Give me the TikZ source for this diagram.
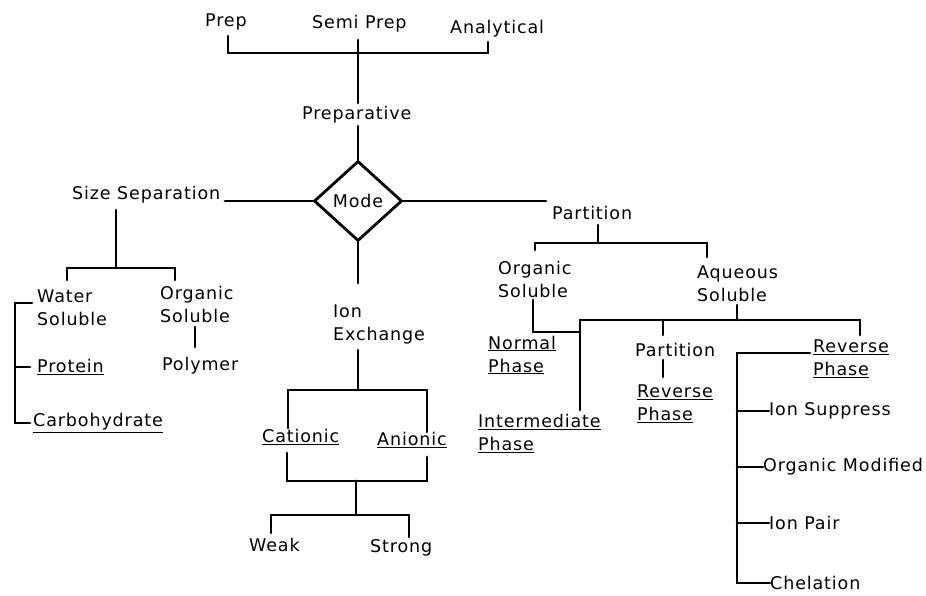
\documentclass[tikz,border=0pt]{standalone}
\usepackage{fontspec}
\setmainfont[LetterSpace=5]{DejaVu Sans}
\usetikzlibrary{shapes.geometric}
\begin{document}
\begin{tikzpicture}[x=1pt,y=-1pt,
  lbl/.style={anchor=west,inner sep=0pt,align=left,font=\fontsize{17.5}{23}\selectfont},
  conn/.style={draw=black,line width=2.8pt,line cap=round,line join=miter}]
\useasboundingbox[fill=white] (0,0) rectangle (926,596);
% nodes
\node[lbl] (prep) at (205,22) {Prep};
\node[lbl] (semi) at (312,24) {Semi Prep};
\node[lbl] (anal) at (450,29) {Analytical};
\node[lbl] (prepar) at (302,115) {Preparative};
\node[draw,line width=2.8pt,diamond,minimum width=88pt,minimum height=80pt,inner sep=0pt,
      font=\fontsize{17.5}{20}\selectfont] (mode) at (358,201) {Mode};
\node[lbl] (size) at (72,195) {Size Separation};
\node[lbl] (part) at (552,213) {Partition};
\node[lbl] (water) at (37,307.5) {Water\\Soluble};
\node[lbl] (orgL) at (160,304.5) {Organic\\Soluble};
\node[lbl] (polymer) at (162,366) {Polymer};
\node[lbl] (protein) at (37,367) {\underline{Protein}};
\node[lbl] (carbo) at (33,423) {\underline{Carbohydrate}};
\node[lbl] (ionex) at (333,324.5) {Ion\\Exchange};
\node[lbl] (cation) at (262,437) {\underline{Cationic}};
\node[lbl] (anion) at (377,440) {\underline{Anionic}};
\node[lbl] (weak) at (249,545) {Weak};
\node[lbl] (strong) at (370,548) {Strong};
\node[lbl] (orgR) at (498,279) {Organic\\Soluble};
\node[lbl] (aq) at (697,283.5) {Aqueous\\Soluble};
\node[lbl] (normal) at (488,355) {\underline{Normal}\\\underline{Phase}};
\node[lbl] (inter) at (478,433.5) {\underline{Intermediate}\\\underline{Phase}};
\node[lbl] (part2) at (635,350) {Partition};
\node[lbl] (rev2) at (637,403.5) {\underline{Reverse}\\\underline{Phase}};
\node[lbl] (rev3) at (813,358.5) {\underline{Reverse}\\\underline{Phase}};
\node[lbl] (ionsup) at (769,411) {Ion Suppress};
\node[lbl] (orgmod) at (763,467) {Organic Modified};
\node[lbl] (ionpair) at (769,523) {Ion Pair};
\node[lbl] (chel) at (770,583) {Chelation};
% junction coordinates
\coordinate (a1) at (228,36); \coordinate (a2) at (488,42); \coordinate (jt) at (358,53);
\coordinate (s1) at (358,40); \coordinate (s2) at (358,103); \coordinate (p1) at (358,126);
\coordinate (sz) at (225,201); \coordinate (pt) at (546,201);
\coordinate (ix) at (358,283);
% top
\draw[conn] (a1) |- (jt) -| (a2);
\draw[conn] (s1) -- (s2);
\draw[conn] (p1) -- (mode.north);
\draw[conn] (sz) -- (mode.west);
\draw[conn] (mode.east) -- (pt);
\draw[conn] (mode.south) -- (ix);
% size separation
\coordinate (z1) at (116,210); \coordinate (z2) at (116,268);
\coordinate (w1) at (67,280); \coordinate (o1) at (175,280);
\draw[conn] (z1) -- (z2);
\draw[conn] (w1) |- (z2) -| (o1);
\coordinate (py1) at (195,327); \coordinate (py2) at (195,347);
\draw[conn] (py1) -- (py2);
\coordinate (b1) at (32,303); \coordinate (b2) at (15,303); \coordinate (b3) at (15,423);
\coordinate (b4) at (30,423); \coordinate (b5) at (15,367); \coordinate (b6) at (30,367);
\draw[conn] (b1) -- (b2) -- (b3) -- (b4);
\draw[conn] (b5) -- (b6);
% ion exchange
\coordinate (i1) at (358,350); \coordinate (i2) at (358,390);
\coordinate (c1) at (288,428); \coordinate (n1) at (427,432);
\draw[conn] (i1) -- (i2);
\draw[conn] (c1) |- (i2) -| (n1);
\coordinate (c2) at (287,453); \coordinate (n2) at (427,457); \coordinate (m1) at (356,481);
\coordinate (m2) at (356,515); \coordinate (wk) at (271,533); \coordinate (st) at (409,537);
\draw[conn] (c2) |- (m1) -| (n2);
\draw[conn] (m1) -- (m2);
\draw[conn] (wk) |- (m2) -| (st);
% partition
\coordinate (q1) at (598,225); \coordinate (q2) at (598,243);
\coordinate (r1) at (535,250); \coordinate (r2) at (707,257);
\draw[conn] (q1) -- (q2);
\draw[conn] (r1) |- (q2) -| (r2);
\coordinate (os1) at (533,300); \coordinate (os2) at (580,332);
\draw[conn] (os1) |- (os2);
\coordinate (aq1) at (737,305); \coordinate (aq2) at (737,320);
\coordinate (h1) at (580,410); \coordinate (h2) at (860,335); \coordinate (h3) at (663,320);
\coordinate (h4) at (663,335);
\draw[conn] (aq1) -- (aq2);
\draw[conn] (h1) |- (aq2) -| (h2);
\draw[conn] (h3) -- (h4);
\coordinate (pp1) at (663,360); \coordinate (pp2) at (663,377);
\draw[conn] (pp1) -- (pp2);
% reverse phase branches
\coordinate (v0) at (810,353); \coordinate (v1) at (737,353);
\coordinate (v2) at (737,411); \coordinate (v3) at (737,467); \coordinate (v4) at (737,523);
\coordinate (v5) at (737,583);
\draw[conn] (v0) -- (v1) -- (v5) -- (chel.west);
\draw[conn] (v2) -- (ionsup.west);
\draw[conn] (v3) -- (orgmod.west);
\draw[conn] (v4) -- (ionpair.west);
\end{tikzpicture}
\end{document}
